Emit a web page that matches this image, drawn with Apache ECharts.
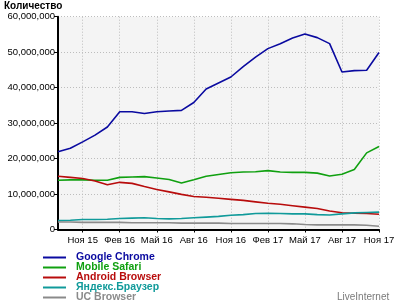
<!DOCTYPE html>
<html><head><meta charset="utf-8">
<script src="https://cdn.jsdelivr.net/npm/echarts@6/dist/echarts.min.js"></script>
<style>html,body{margin:0;padding:0;background:#fff}#c{width:400px;height:300px}</style>
</head><body><div id="c"></div>
<script>
const months = ['Сен 15','Окт 15','Ноя 15','Дек 15','Янв 16','Фев 16','Мар 16','Апр 16','Май 16','Июн 16','Июл 16','Авг 16','Сен 16','Окт 16','Ноя 16','Дек 16','Янв 17','Фев 17','Мар 17','Апр 17','Май 17','Июн 17','Июл 17','Авг 17','Сен 17','Окт 17','Ноя 17'];
const labelledMonths = ['Ноя 15','Фев 16','Май 16','Авг 16','Ноя 16','Фев 17','Май 17','Авг 17','Ноя 17'];
const seriesNames = ['Google Chrome','Mobile Safari','Android Browser','Яндекс.Браузер','UC Browser'];
const chrome = [21.9,22.9,24.7,26.6,28.9,33.2,33.2,32.7,33.2,33.4,33.6,35.8,39.6,41.3,43.0,45.9,48.6,51.0,52.4,54.0,55.1,54.1,52.4,44.4,44.8,44.9,49.9];
const safari = [13.9,14.0,14.0,13.9,13.9,14.7,14.8,14.9,14.5,14.1,13.1,14.0,15.0,15.5,16.0,16.2,16.3,16.6,16.2,16.1,16.1,15.9,15.1,15.6,16.9,21.6,23.4];
const android = [15.0,14.7,14.4,13.7,12.6,13.3,13.0,12.1,11.3,10.6,9.9,9.3,9.1,8.8,8.5,8.2,7.8,7.4,7.1,6.7,6.3,5.9,5.2,4.7,4.6,4.5,4.3];
const yandex = [2.5,2.6,2.8,2.8,2.9,3.1,3.2,3.3,3.1,3.0,3.1,3.3,3.5,3.7,4.0,4.2,4.5,4.6,4.5,4.4,4.4,4.2,4.1,4.4,4.7,4.8,4.9];
const uc = [2.1,2.1,2.0,2.0,2.0,2.0,1.9,1.9,1.9,1.9,1.8,1.8,1.8,1.8,1.7,1.7,1.7,1.7,1.7,1.6,1.4,1.3,1.3,1.3,1.3,1.2,0.9];
const colors = ['#0a0aa0','#10a010','#b80c0c','#109a9a','#8a8a8a'];
const allData = [chrome, safari, android, yandex, uc];

const chart = echarts.init(document.getElementById('c'), null, {renderer:'canvas'});
const showIdx = (i) => labelledMonths.indexOf(months[i]) >= 0;
const fmt = v => Math.round(v).toString().replace(/\B(?=(\d{3})+(?!\d))/g, ',');
chart.setOption({
  animation:false,
  textStyle:{fontFamily:'Liberation Sans'},
  title:{text:'Количество', left:4, top:1, padding:0,
    textStyle:{fontFamily:'Liberation Sans', fontWeight:'bold', fontSize:10, color:'#000'}},
  grid:{left:58, right:21, top:16.7, bottom:70.5, show:true, backgroundColor:'#f4f4f4', borderWidth:0},
  xAxis:{type:'category', data:months, boundaryGap:false,
    axisLine:{lineStyle:{color:'#000', width:2}},
    axisTick:{show:true, length:3, interval:(i)=>showIdx(i), lineStyle:{color:'#000'}},
    axisLabel:{interval:(i)=>showIdx(i), fontSize:9.5, color:'#000', margin:6},
    splitLine:{show:true, interval:(i)=>showIdx(i), lineStyle:{color:'#bdbdbd', type:[1,2], width:1}}},
  yAxis:{type:'value', min:0, max:60000000, interval:10000000,
    axisLine:{show:true, lineStyle:{color:'#000', width:2}},
    axisTick:{show:true, length:4, lineStyle:{color:'#000'}},
    axisLabel:{formatter:fmt, fontSize:9.5, color:'#000', margin:3},
    splitLine:{show:true, lineStyle:{color:'#bdbdbd', type:[1,2], width:1}}},
  legend: seriesNames.map((n,i)=>({orient:'vertical', left:43, top:252 + i*10, padding:0, itemGap:0, icon:'rect', itemWidth:23, itemHeight:2,
    data:[{name:n, textStyle:{color:colors[i]}}],
    textStyle:{fontFamily:'Liberation Sans', fontWeight:'bold', fontSize:10.5, lineHeight:10, padding:[0,0,0,5]}})),
  graphic:[{type:'text', left:337, top:292, style:{text:'LiveInternet', fill:'#7a7a7a', font:'10px "Liberation Sans"'}}],
  series: seriesNames.map((n,i)=>({name:n, type:'line', symbol:'none', color:colors[i],
    lineStyle:{width:1.6, color:colors[i]},
    data: allData[i].map(v=>v*1000000)}))
});
</script></body></html>
